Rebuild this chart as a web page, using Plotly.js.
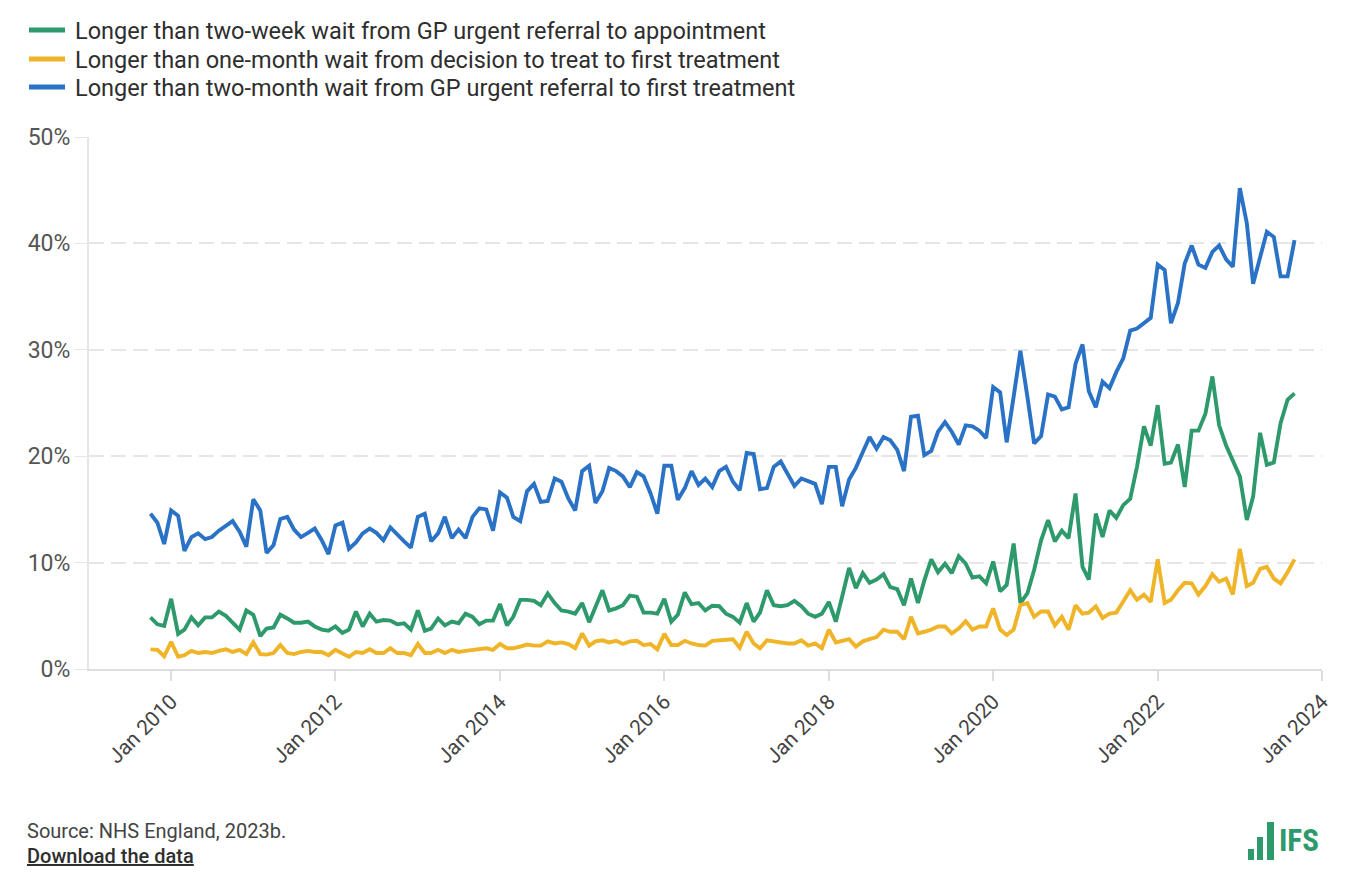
<!DOCTYPE html>
<html>
<head>
<meta charset="utf-8">
<script src="https://cdn.plot.ly/plotly-3.0.1.min.js"></script>
<style>
  html, body { margin: 0; padding: 0; background: #ffffff; }
  #chart { width: 1363px; height: 886px; }
</style>
</head>
<body>
<div id="chart"></div>
<script>
(function () {
  // monthly data, first month Oct 2009
  var START_YEAR = 2009;
  var START_MONTH = 10;

  var SERIES_NAMES = [
    "Longer than two-week wait from GP urgent referral to appointment",
    "Longer than one-month wait from decision to treat to first treatment",
    "Longer than two-month wait from GP urgent referral to first treatment"
  ];

  var twoWeek = [
    4.85, 4.2, 4.05,
    6.6, 3.3, 3.7, 4.85, 4.1, 4.85, 4.85, 5.4, 5.0, 4.35, 3.7, 5.5,
    5.1, 3.1, 3.8, 3.9, 5.1, 4.75, 4.35, 4.35, 4.45, 4.0, 3.7, 3.6,
    4.0, 3.4, 3.7, 5.4, 4.0, 5.2, 4.45, 4.6, 4.55, 4.2, 4.3, 3.7,
    5.5, 3.6, 3.8, 4.75, 4.1, 4.45, 4.3, 5.2, 4.9, 4.2, 4.55, 4.55,
    6.1, 4.1, 4.9, 6.5, 6.5, 6.4, 6.0, 7.1, 6.2, 5.5, 5.4, 5.2,
    6.2, 4.4, 5.9, 7.4, 5.5, 5.7, 6.0, 6.9, 6.8, 5.3, 5.3, 5.2,
    6.6, 4.45, 5.1, 7.2, 6.1, 6.2, 5.5, 5.95, 5.9, 5.2, 4.9, 4.35,
    6.2, 4.45, 5.3, 7.4, 6.0, 5.9, 6.0, 6.4, 5.9, 5.2, 4.9, 5.2,
    6.3, 4.45, 6.8, 9.5, 7.6, 9.0, 8.1, 8.4, 8.9, 7.7, 7.5, 6.0,
    8.5, 6.2, 8.3, 10.3, 9.1, 9.9, 9.0, 10.6, 9.9, 8.6, 8.7, 8.05,
    10.1, 7.3, 7.9, 11.8, 6.2, 7.1, 9.3, 12.1, 14.0, 12.0, 13.0, 12.3,
    16.5, 9.6, 8.4, 14.6, 12.4, 14.9, 14.2, 15.4, 16.0, 19.0, 22.8, 21.0,
    24.8, 19.3, 19.4, 21.1, 17.1, 22.4, 22.4, 24.0, 27.5, 22.9, 21.0, 19.5,
    18.1, 14.0, 16.2, 22.2, 19.2, 19.4, 23.1, 25.3, 25.9
  ];

  var oneMonth = [
    1.85, 1.8, 1.2,
    2.55, 1.15, 1.3, 1.7, 1.5, 1.6, 1.5, 1.7, 1.85, 1.6, 1.8, 1.4,
    2.5, 1.4, 1.35, 1.5, 2.25, 1.5, 1.4, 1.6, 1.7, 1.6, 1.6, 1.3,
    1.8, 1.45, 1.15, 1.6, 1.5, 1.85, 1.5, 1.5, 1.95, 1.5, 1.5, 1.3,
    2.35, 1.5, 1.5, 1.8, 1.5, 1.8, 1.6, 1.7, 1.8, 1.85, 1.95, 1.8,
    2.35, 1.95, 1.95, 2.1, 2.3, 2.2, 2.2, 2.6, 2.4, 2.5, 2.35, 1.95,
    3.35, 2.2, 2.6, 2.7, 2.5, 2.65, 2.35, 2.6, 2.65, 2.25, 2.35, 1.85,
    3.3, 2.25, 2.25, 2.65, 2.4, 2.25, 2.2, 2.65, 2.7, 2.7, 2.8, 2.0,
    3.5, 2.4, 1.95, 2.7, 2.6, 2.5, 2.4, 2.4, 2.7, 2.2, 2.4, 1.95,
    3.7, 2.5, 2.6, 2.8, 2.1, 2.6, 2.8, 3.0, 3.7, 3.5, 3.5, 2.8,
    4.9, 3.35, 3.5, 3.7, 4.0, 4.0, 3.35, 3.8, 4.5, 3.7, 4.0, 4.0,
    5.7, 3.7, 3.2, 3.7, 6.0, 6.2, 4.9, 5.4, 5.4, 4.1, 4.9, 3.7,
    6.0, 5.2, 5.3, 5.9, 4.8, 5.2, 5.3, 6.3, 7.4, 6.5, 7.0, 6.3,
    10.3, 6.2, 6.5, 7.4, 8.1, 8.05, 7.0, 7.8, 8.9, 8.2, 8.5, 7.0,
    11.3, 7.8, 8.1, 9.4, 9.6, 8.5, 8.05, 9.1, 10.3
  ];

  var twoMonth = [
    14.6, 13.75, 11.75,
    14.9, 14.4, 11.1, 12.4, 12.75, 12.2, 12.4, 13.0, 13.5, 13.9, 12.9, 11.5,
    15.95, 14.9, 10.9, 11.65, 14.1, 14.3, 13.1, 12.4, 12.8, 13.2, 12.1, 10.8,
    13.5, 13.75, 11.3, 11.9, 12.75, 13.2, 12.8, 12.1, 13.3, 12.6, 12.0, 11.4,
    14.3, 14.6, 12.0, 12.75, 14.3, 12.3, 13.1, 12.3, 14.3, 15.1, 15.0, 13.0,
    16.6, 16.1, 14.3, 13.9, 16.7, 17.4, 15.7, 15.8, 17.9, 17.6, 16.0, 14.9,
    18.6, 19.1, 15.6, 16.7, 18.9, 18.6, 18.1, 17.1, 18.5, 18.1, 16.5, 14.6,
    19.1, 19.1, 15.9, 17.0, 18.6, 17.3, 17.9, 17.1, 18.6, 19.0, 17.6, 16.8,
    20.3, 20.2, 16.9, 17.0, 19.0, 19.5, 18.4, 17.2, 17.9, 17.7, 17.4, 15.5,
    19.0, 19.0, 15.3, 17.8, 18.9, 20.4, 21.8, 20.7, 21.8, 21.5, 20.6, 18.6,
    23.7, 23.8, 20.1, 20.5, 22.3, 23.2, 22.3, 21.1, 22.9, 22.8, 22.4, 21.7,
    26.5, 26.0, 21.3, 25.6, 29.9, 25.6, 21.2, 21.9, 25.8, 25.6, 24.4, 24.6,
    28.7, 30.5, 26.1, 24.6, 27.0, 26.4, 27.9, 29.2, 31.8, 32.0, 32.5, 33.0,
    38.0, 37.5, 32.5, 34.4, 38.1, 39.8, 38.0, 37.7, 39.2, 39.8, 38.5, 37.8,
    45.2, 41.9, 36.2, 38.6, 41.1, 40.6, 36.9, 36.9, 40.3
  ];

  var COLORS = ["#2e9a6c", "#f0b429", "#2a72c5"];
  var FONT = "Roboto, 'Noto Sans', sans-serif";

  function months(n) {
    var out = [];
    for (var k = 0; k < n; k++) {
      var m = START_MONTH - 1 + k;
      var y = START_YEAR + Math.floor(m / 12);
      var mm = (m % 12) + 1;
      out.push(y + "-" + (mm < 10 ? "0" + mm : mm) + "-01");
    }
    return out;
  }

  // plot area in pixels, used to place legend and footer bits
  var PL = 89, PR = 1322, PT = 137, PB = 669;
  function px(x) { return (x - PL) / (PR - PL); }
  function py(y) { return (PB - y) / (PB - PT); }

  var dates = months(twoWeek.length);
  var values = [twoWeek, oneMonth, twoMonth];

  var traces = values.map(function (v, i) {
    return {
      x: dates,
      y: v,
      type: "scatter",
      mode: "lines",
      name: SERIES_NAMES[i],
      line: { color: COLORS[i], width: 3.9 },
      hoverinfo: "skip"
    };
  });

  var shapes = [];
  var annotations = [];

  // legend, drawn by hand so rows sit like the original
  var LEGEND_ROWS = [30, 59, 87];
  SERIES_NAMES.forEach(function (name, i) {
    shapes.push({
      type: "line", xref: "paper", yref: "paper",
      x0: px(29), x1: px(65), y0: py(LEGEND_ROWS[i]), y1: py(LEGEND_ROWS[i]),
      line: { color: COLORS[i], width: 5 }
    });
    annotations.push({
      xref: "paper", yref: "paper",
      x: px(73), y: py(LEGEND_ROWS[i] + 1), xanchor: "left", yanchor: "middle",
      text: name, showarrow: false,
      font: { family: FONT, size: 23.5, color: "#2e2e2e" }
    });
  });

  var logoGreen = "#2e9a6c";
  [
    [1248, 849, 1254, 860],
    [1257, 837, 1263, 860],
    [1267, 822, 1274, 860]
  ].forEach(function (b) {
    shapes.push({
      type: "rect", xref: "paper", yref: "paper",
      x0: px(b[0]), x1: px(b[2]), y0: py(b[3]), y1: py(b[1]),
      fillcolor: logoGreen, line: { width: 0 }
    });
  });

  annotations.push(
    {
      xref: "paper", yref: "paper",
      x: px(25), y: py(831), xanchor: "left", yanchor: "middle",
      text: "Source: NHS England, 2023b.",
      showarrow: false,
      font: { family: FONT, size: 20, color: "#444444" }
    },
    {
      xref: "paper", yref: "paper",
      x: px(25), y: py(856), xanchor: "left", yanchor: "middle",
      text: "<u>Download the data</u>",
      showarrow: false,
      font: { family: FONT, size: 20, color: "#2e2e2e", weight: 500 }
    },
    {
      xref: "paper", yref: "paper",
      x: px(1277), y: py(861), xanchor: "left", yanchor: "bottom",
      text: "<b>IFS</b>",
      showarrow: false,
      font: { family: "'Roboto Condensed', Roboto, sans-serif", size: 31, color: logoGreen }
    }
  );

  var layout = {
    width: 1363,
    height: 886,
    margin: { l: PL, r: 1363 - PR, t: PT, b: 886 - PB, autoexpand: false },
    paper_bgcolor: "#ffffff",
    plot_bgcolor: "#ffffff",
    font: { family: FONT, color: "#444444" },
    showlegend: false,
    xaxis: {
      type: "date",
      range: ["2009-01-01", "2024-01-01"],
      tick0: "2010-01-01",
      dtick: "M24",
      tickformat: "%b %Y",
      tickangle: -45,
      ticks: "outside",
      ticklen: 10,
      tickcolor: "#dddddd",
      tickwidth: 2,
      showgrid: false,
      showline: true,
      linecolor: "#dddddd",
      linewidth: 2,
      zeroline: false,
      tickfont: { family: FONT, size: 21, color: "#444444" }
    },
    yaxis: {
      range: [0, 50],
      dtick: 10,
      ticksuffix: "%",
      ticks: "outside",
      ticklen: 12,
      tickcolor: "#e6e6e6",
      showgrid: true,
      gridcolor: "#e6e6e6",
      gridwidth: 2,
      griddash: "15px,7px",
      showline: true,
      linecolor: "#e6e6e6",
      linewidth: 2,
      zeroline: false,
      tickfont: { family: FONT, size: 23, color: "#555555" }
    },
    shapes: shapes,
    annotations: annotations
  };

  Plotly.newPlot("chart", traces, layout, { displayModeBar: false, responsive: false });
})();
</script>
</body>
</html>
